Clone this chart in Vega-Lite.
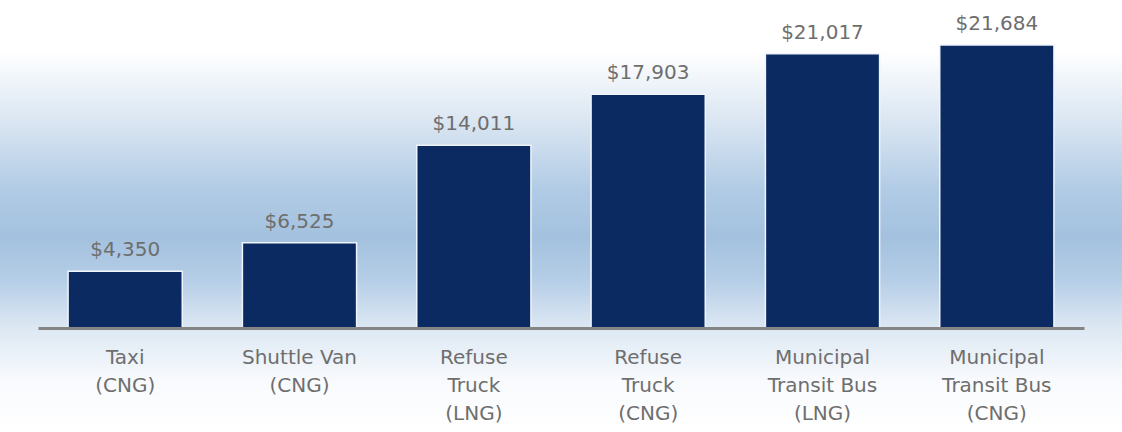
{
  "$schema": "https://vega.github.io/schema/vega-lite/v6.json",
  "width": 1122,
  "height": 432,
  "autosize": {"type": "none"},
  "padding": 0,
  "background": "white",
  "config": {"view": {"stroke": null}},
  "data": {
    "values": [
      {"vehicle": "Taxi|(CNG)", "cost": 4350, "label": "$4,350"},
      {"vehicle": "Shuttle Van|(CNG)", "cost": 6525, "label": "$6,525"},
      {"vehicle": "Refuse|Truck|(LNG)", "cost": 14011, "label": "$14,011"},
      {"vehicle": "Refuse|Truck|(CNG)", "cost": 17903, "label": "$17,903"},
      {"vehicle": "Municipal|Transit Bus|(LNG)", "cost": 21017, "label": "$21,017"},
      {"vehicle": "Municipal|Transit Bus|(CNG)", "cost": 21684, "label": "$21,684"}
    ]
  },
  "layer": [
    {
      "mark": {
        "type": "rect",
        "color": {
          "gradient": "linear",
          "x1": 0, "y1": 0, "x2": 0, "y2": 1,
          "stops": [
            {"offset": 0, "color": "#ffffff"},
            {"offset": 0.12, "color": "#ffffff"},
            {"offset": 0.28, "color": "#dae6f2"},
            {"offset": 0.44, "color": "#b1cbe5"},
            {"offset": 0.55, "color": "#a3c1de"},
            {"offset": 0.65, "color": "#b6cee7"},
            {"offset": 0.76, "color": "#dde8f3"},
            {"offset": 0.88, "color": "#f8fafd"},
            {"offset": 1, "color": "#ffffff"}
          ]
        }
      },
      "encoding": {}
    },
    {
      "mark": {"type": "bar", "color": "#0c2a62", "stroke": "#eef4fb", "strokeWidth": 1.5},
      "encoding": {
        "x": {
          "field": "vehicle",
          "type": "nominal",
          "sort": null,
          "scale": {"range": [38, 1084], "paddingInner": 0.345, "paddingOuter": 0.1725},
          "axis": {
            "title": null,
            "orient": "bottom",
            "offset": -104,
            "zindex": 2,
            "domainColor": "#858585",
            "domainWidth": 3,
            "ticks": false,
            "labelAngle": 0,
            "labelExpr": "split(datum.label, '|')",
            "labelFont": "DejaVu Sans",
            "labelFontSize": 20,
            "labelColor": "#6e6e6e",
            "labelLineHeight": 28,
            "labelPadding": 19,
            "labelBaseline": "top",
            "labelLimit": 300
          }
        },
        "y": {
          "field": "cost",
          "type": "quantitative",
          "scale": {"domain": [0, 25134], "range": [328, 0], "nice": false, "zero": true},
          "axis": null
        }
      }
    },
    {
      "mark": {"type": "text", "baseline": "alphabetic", "dy": -15, "font": "DejaVu Sans", "fontSize": 20, "color": "#6e6e6e"},
      "encoding": {
        "x": {"field": "vehicle", "type": "nominal", "sort": null},
        "y": {"field": "cost", "type": "quantitative"},
        "text": {"field": "label"}
      }
    }
  ]
}
